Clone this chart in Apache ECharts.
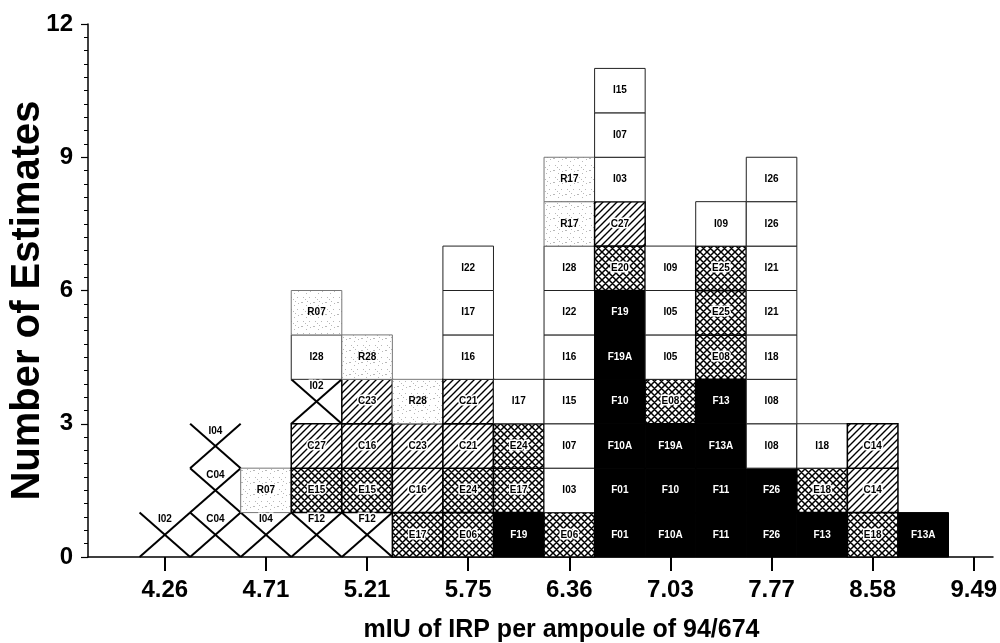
<!DOCTYPE html>
<html>
<head>
<meta charset="utf-8">
<script src="https://cdn.jsdelivr.net/npm/echarts@6/dist/echarts.min.js"></script>
<style>
html,body{margin:0;padding:0;background:#fff;}
#chart{width:1000px;height:643px;}
</style>
</head>
<body>
<div id="chart"></div>
<script>
// ---- data ----
const tickLabels = ['4.26','4.71','5.21','5.75','6.36','7.03','7.77','8.58','9.49'];
// bins (one every half tick), stacks listed bottom to top
const col00 = ['I02'];
const col01 = ['C04','C04','I04'];
const col02 = ['I04','R07'];
const col03 = ['F12','E15','C27','I02','I28','R07'];
const col04 = ['F12','E15','C16','C23','R28'];
const col05 = ['E17','C16','C23','R28'];
const col06 = ['E06','E24','C21','C21','I16','I17','I22'];
const col07 = ['F19','E17','E24','I17'];
const col08 = ['E06','I03','I07','I15','I16','I22','I28','R17','R17'];
const col09 = ['F01','F01','F10A','F10','F19A','F19','E20','C27','I03','I07','I15'];
const col10 = ['F10A','F10','F19A','E08','I05','I05','I09'];
const col11 = ['F11','F11','F13A','F13','E08','E25','E25','I09'];
const col12 = ['F26','F26','I08','I08','I18','I21','I21','I26','I26'];
const col13 = ['F13','E18','I18'];
const col14 = ['E18','C14','C14'];
const col15 = ['F13A'];
const columns = [col00,col01,col02,col03,col04,col05,col06,col07,col08,col09,col10,col11,col12,col13,col14,col15];
// estimates drawn as crossed cells
const crossedCells = ['I02','I04','C04','F12'];

// ---- build series data ----
const cells = [];
const cellLabels = [];
columns.forEach((col, k) => {
  col.forEach((lab, r) => { cells.push([k, r]); cellLabels.push(lab); });
});

// ---- fill patterns ----
function makeCanvas(s){const c=document.createElement('canvas');c.width=s;c.height=s;const g=c.getContext('2d');g.fillStyle='#fff';g.fillRect(0,0,s,s);return [c,g];}
const hatch = (function(){const s=7;const [c,g]=makeCanvas(s);g.strokeStyle='#000';g.lineWidth=1.4;
  g.beginPath();g.moveTo(-1,s+1);g.lineTo(s+1,-1);g.moveTo(-2,2);g.lineTo(2,-2);g.moveTo(s-2,s+2);g.lineTo(s+2,s-2);g.stroke();return c;})();
const cross = (function(){const s=7;const [c,g]=makeCanvas(s);g.strokeStyle='#000';g.lineWidth=1.5;
  g.beginPath();g.moveTo(-1,s+1);g.lineTo(s+1,-1);g.moveTo(-1,-1);g.lineTo(s+1,s+1);
  g.moveTo(-2,2);g.lineTo(2,-2);g.moveTo(s-2,s+2);g.lineTo(s+2,s-2);
  g.moveTo(s-2,-2);g.lineTo(s+2,2);g.moveTo(-2,s-2);g.lineTo(2,s+2);g.stroke();return c;})();
const stipple = (function(){const s=12;const [c,g]=makeCanvas(s);g.fillStyle='#b8b8b8';
  [[1,2],[2,2],[6,5],[9,9],[3,9],[10,3],[5,11],[7,1]].forEach(p=>g.fillRect(p[0],p[1],1,1));return c;})();

const FONT = "'Liberation Sans', Arial, Helvetica, sans-serif";

function renderItem(params, api) {
  const k = api.value(0), r = api.value(1);
  const lab = cellLabels[params.dataIndex];
  const p0 = api.coord([k - 0.5, r]);
  const p1 = api.coord([k + 0.5, r + 1]);
  const x = p0[0], y = p1[1], w = p1[0] - p0[0], h = p0[1] - p1[1];
  const kind = crossedCells.indexOf(lab) >= 0 ? 'X' : lab.charAt(0);
  const children = [];
  const txt = {type:'text', z2: 10, style:{text: lab, x: x + w/2, y: y + h/2, align:'center', verticalAlign:'middle',
    font: 'bold 10px ' + FONT, fill:'#000'}};
  if (kind === 'X') {
    children.push({type:'line', shape:{x1:x, y1:y, x2:x+w, y2:y+h}, style:{stroke:'#000', lineWidth:2}});
    children.push({type:'line', shape:{x1:x, y1:y+h, x2:x+w, y2:y}, style:{stroke:'#000', lineWidth:2}});
    txt.style.y = y + 7;
    txt.style.stroke = '#fff'; txt.style.lineWidth = 3;
  } else if (kind === 'F') {
    children.push({type:'rect', shape:{x, y, width:w, height:h}, style:{fill:'#000', stroke:'#000', lineWidth:1}});
    txt.style.fill = '#fff';
  } else if (kind === 'E') {
    children.push({type:'rect', shape:{x, y, width:w, height:h}, style:{fill:{image:cross, repeat:'repeat'}, stroke:'#000', lineWidth:1.5}});
    txt.style.stroke = '#fff'; txt.style.lineWidth = 3;
  } else if (kind === 'C') {
    children.push({type:'rect', shape:{x, y, width:w, height:h}, style:{fill:{image:hatch, repeat:'repeat'}, stroke:'#000', lineWidth:1.5}});
    txt.style.stroke = '#fff'; txt.style.lineWidth = 3;
  } else if (kind === 'R') {
    children.push({type:'rect', shape:{x, y, width:w, height:h}, style:{fill:{image:stipple, repeat:'repeat'}, stroke:'#777', lineWidth:1}});
  } else {
    children.push({type:'rect', shape:{x, y, width:w, height:h}, style:{fill:'#fff', stroke:'#222', lineWidth:1}});
  }
  children.push(txt);
  return {type:'group', children};
}

const chart = echarts.init(document.getElementById('chart'), null, {renderer:'canvas'});
const tickPos = tickLabels.map((_, i) => i * 2);
chart.setOption({
  animation: false,
  backgroundColor: '#fff',
  grid: {left: 88, right: 7, top: 24, bottom: 86, containLabel: false, outerBoundsMode: 'none'},
  xAxis: {
    type: 'value', min: -1.52, max: 16.38,
    name: 'mIU of IRP per ampoule of 94/674', nameLocation: 'middle', nameGap: 61, nameMoveOverlap: false,
    nameTextStyle: {fontFamily: FONT, fontWeight: 'bold', fontSize: 25, color: '#000', padding: [0, 0, 0, 42]},
    axisLine: {onZero: false, lineStyle: {color: '#000', width: 1.5}},
    axisTick: {show: true, length: 14, lineStyle: {color: '#000', width: 2}, customValues: tickPos},
    axisLabel: {customValues: tickPos, margin: 21, fontFamily: FONT, fontWeight: 'bold', fontSize: 24, color: '#000',
      formatter: v => tickLabels[Math.round(v / 2)] || ''},
    splitLine: {show: false}
  },
  yAxis: {
    type: 'value', min: 0, max: 12, interval: 3,
    name: 'Number of Estimates', nameLocation: 'middle', nameGap: 40, nameMoveOverlap: false,
    nameTextStyle: {fontFamily: FONT, fontWeight: 'bold', fontSize: 40, color: '#000', padding: [0, 20, 0, 0]},
    axisLine: {show: true, onZero: false, lineStyle: {color: '#000', width: 1.5}},
    axisTick: {show: true, length: 7, lineStyle: {color: '#000', width: 1.2}},
    minorTick: {show: true, splitNumber: 10, length: 4, lineStyle: {color: '#000', width: 1}},
    axisLabel: {margin: 15, fontFamily: FONT, fontWeight: 'bold', fontSize: 24, color: '#000'},
    splitLine: {show: false}
  },
  series: [{
    type: 'custom', renderItem, data: cells, clip: false,
    encode: {x: 0, y: 1}
  }]
});
</script>
</body>
</html>
